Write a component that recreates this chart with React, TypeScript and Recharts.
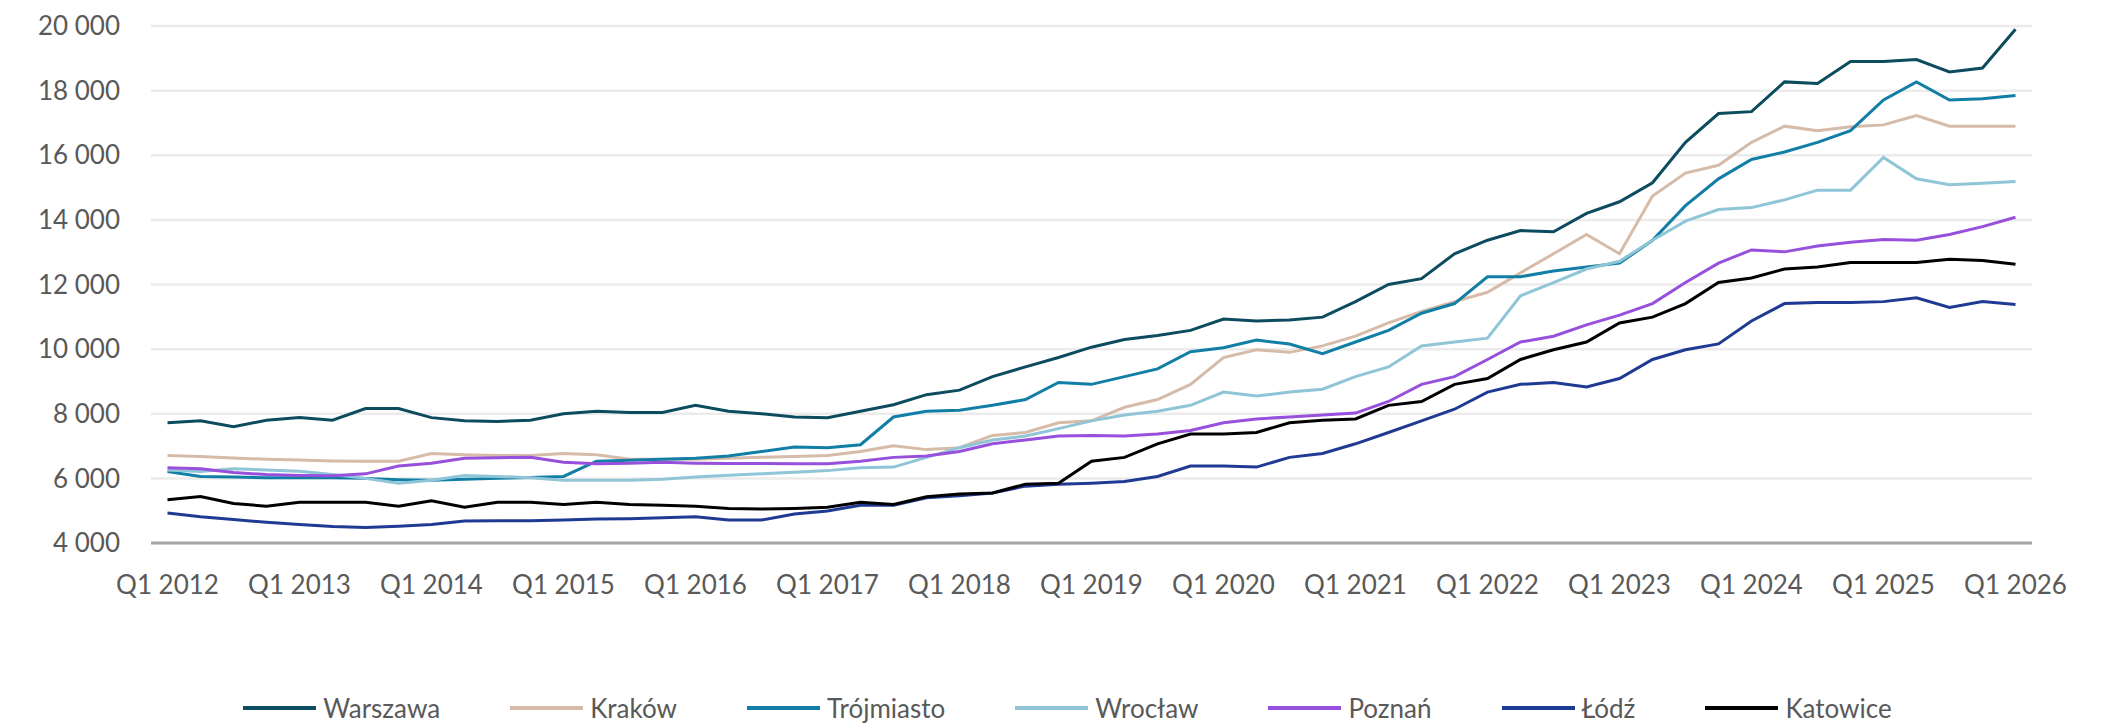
import React from 'react';
import { LineChart, Line, XAxis, YAxis, CartesianGrid, Legend } from 'recharts';

// quarterly asking prices, Q1 2012 .. Q1 2026
const quarters = [
  'Q1 2012', 'Q2 2012', 'Q3 2012', 'Q4 2012', 'Q1 2013', 'Q2 2013', 'Q3 2013', 'Q4 2013',
  'Q1 2014', 'Q2 2014', 'Q3 2014', 'Q4 2014', 'Q1 2015', 'Q2 2015', 'Q3 2015', 'Q4 2015',
  'Q1 2016', 'Q2 2016', 'Q3 2016', 'Q4 2016', 'Q1 2017', 'Q2 2017', 'Q3 2017', 'Q4 2017',
  'Q1 2018', 'Q2 2018', 'Q3 2018', 'Q4 2018', 'Q1 2019', 'Q2 2019', 'Q3 2019', 'Q4 2019',
  'Q1 2020', 'Q2 2020', 'Q3 2020', 'Q4 2020', 'Q1 2021', 'Q2 2021', 'Q3 2021', 'Q4 2021',
  'Q1 2022', 'Q2 2022', 'Q3 2022', 'Q4 2022', 'Q1 2023', 'Q2 2023', 'Q3 2023', 'Q4 2023',
  'Q1 2024', 'Q2 2024', 'Q3 2024', 'Q4 2024', 'Q1 2025', 'Q2 2025', 'Q3 2025', 'Q4 2025',
  'Q1 2026',
];

const warszawa = [
  7720, 7780, 7600, 7800, 7880, 7800, 8160, 8160, 7880, 7780, 7760, 7800, 8000, 8080, 8040, 8040, 8260,
  8080, 8000, 7900, 7880, 8080, 8280, 8590, 8730, 9150, 9450, 9740, 10060, 10300, 10420, 10580, 10930, 10870, 10900, 10990,
  11470, 12000, 12180, 12950, 13370, 13670, 13630, 14200, 14560, 15150, 16400, 17290, 17350, 18270, 18220, 18900, 18900, 18960, 18580, 18700, 19900,
];
const krakow = [
  6710, 6680, 6630, 6590, 6570, 6540, 6530, 6530, 6770, 6730, 6710, 6710, 6770, 6730, 6590, 6590, 6590,
  6620, 6650, 6680, 6710, 6830, 7010, 6890, 6950, 7330, 7420, 7720, 7780, 8200, 8440, 8910, 9740, 9980, 9900, 10100,
  10400, 10810, 11170, 11470, 11760, 12360, 12950, 13550, 12950, 14740, 15450, 15690, 16400, 16900, 16760, 16880, 16940, 17230, 16900, 16900, 16900,
];
const trojmiasto = [
  6210, 6060, 6040, 6020, 6020, 6020, 6000, 5960, 5940, 5970, 6000, 6030, 6060, 6530, 6560, 6590, 6620,
  6690, 6830, 6970, 6950, 7040, 7900, 8080, 8110, 8260, 8440, 8970, 8910, 9150, 9390, 9920, 10040, 10280, 10160, 9860,
  10220, 10580, 11110, 11410, 12240, 12240, 12420, 12540, 12660, 13370, 14440, 15270, 15870, 16100, 16400, 16760, 17710, 18270, 17710, 17750, 17850,
];
const wroclaw = [
  6260, 6210, 6300, 6260, 6220, 6120, 6000, 5850, 5940, 6090, 6060, 6020, 5940, 5940, 5940, 5970, 6040,
  6100, 6140, 6190, 6240, 6330, 6350, 6650, 6950, 7190, 7310, 7540, 7780, 7960, 8080, 8260, 8670, 8550, 8670, 8760,
  9150, 9450, 10100, 10220, 10340, 11650, 12060, 12480, 12720, 13370, 13960, 14320, 14380, 14620, 14920, 14920, 15930, 15270, 15090, 15130, 15190,
];
const poznan = [
  6330, 6300, 6180, 6120, 6090, 6080, 6140, 6380, 6470, 6620, 6640, 6650, 6500, 6450, 6470, 6500, 6470,
  6460, 6460, 6450, 6450, 6530, 6650, 6690, 6830, 7070, 7190, 7310, 7330, 7310, 7370, 7480, 7720, 7840, 7900, 7960,
  8020, 8380, 8910, 9150, 9680, 10220, 10400, 10750, 11050, 11410, 12060, 12660, 13070, 13010, 13190, 13310, 13390, 13370, 13550, 13790, 14080,
];
const lodz = [
  4930, 4810, 4730, 4640, 4570, 4510, 4480, 4520, 4570, 4680, 4690, 4690, 4710, 4740, 4750, 4780, 4810,
  4710, 4710, 4900, 4990, 5170, 5170, 5400, 5460, 5550, 5760, 5820, 5850, 5900, 6060, 6380, 6380, 6350, 6650, 6770,
  7070, 7420, 7780, 8140, 8670, 8910, 8970, 8830, 9090, 9680, 9980, 10160, 10870, 11410, 11440, 11440, 11470, 11590, 11290, 11470, 11380,
];
const katowice = [
  5340, 5440, 5220, 5140, 5260, 5260, 5260, 5140, 5310, 5110, 5260, 5260, 5190, 5260, 5190, 5170, 5140,
  5070, 5050, 5070, 5110, 5260, 5190, 5430, 5520, 5550, 5820, 5850, 6530, 6650, 7070, 7370, 7370, 7420, 7720, 7800,
  7840, 8260, 8380, 8910, 9090, 9680, 9980, 10220, 10810, 10990, 11410, 12060, 12200, 12480, 12540, 12680, 12680, 12680, 12780, 12740, 12630,
];

const yTicks = [4000, 6000, 8000, 10000, 12000, 14000, 16000, 18000, 20000];

const series = [
  { key: 'warszawa', name: 'Warszawa', color: '#0d4b5e', values: warszawa },
  { key: 'krakow', name: 'Kraków', color: '#d6bba8', values: krakow },
  { key: 'trojmiasto', name: 'Trójmiasto', color: '#117ea5', values: trojmiasto },
  { key: 'wroclaw', name: 'Wrocław', color: '#8fc5d7', values: wroclaw },
  { key: 'poznan', name: 'Poznań', color: '#9650dc', values: poznan },
  { key: 'lodz', name: 'Łódź', color: '#1f3a93', values: lodz },
  { key: 'katowice', name: 'Katowice', color: '#000000', values: katowice },
];

const data = quarters.map((q, i) => {
  const row: Record<string, string | number> = { q };
  series.forEach((s) => { row[s.key] = s.values[i]; });
  return row;
});

const FONT = "Lato, 'Open Sans', sans-serif";
const TEXT = '#595959';

const fmt = (v: number) => `${Math.floor(v / 1000)} ${String(v % 1000).padStart(3, '0')}`;

// legend kept in series order (recharts sorts the payload by name)
const LegendRow = () => (
  <div style={{ display: 'flex', justifyContent: 'center', alignItems: 'center', height: 30, fontFamily: FONT, fontSize: 26, color: TEXT }}>
    {series.map((s, i) => (
      <div key={s.key} style={{ display: 'flex', alignItems: 'center', marginLeft: i === 0 ? 0 : 70 }}>
        <span style={{ display: 'inline-block', width: 73, height: 4, background: s.color, marginRight: 7 }} />
        <span>{s.name}</span>
      </div>
    ))}
  </div>
);

export default function App() {
  return (
    <div style={{ position: 'absolute', left: 0, top: 0, width: 2105, height: 723, background: '#fff' }}>
      <LineChart width={2105} height={723} data={data} margin={{ top: 26, right: 73, left: 0, bottom: 0 }}>
        <CartesianGrid vertical={false} stroke="#ebebeb" strokeWidth={2.5} />
        <XAxis
          dataKey="q"
          interval={3}
          padding={{ left: 16.5, right: 16.5 }}
          height={150}
          tickSize={0}
          tickMargin={33}
          axisLine={{ stroke: '#a6a6a6', strokeWidth: 3 }}
          tickLine={false}
          tick={{ fill: TEXT, fontSize: 26, fontFamily: FONT }}
        />
        <YAxis
          width={151}
          domain={[4000, 20000]}
          ticks={yTicks}
          tickFormatter={fmt}
          axisLine={false}
          tickLine={false}
          tickSize={0}
          tickMargin={31}
          tick={{ fill: TEXT, fontSize: 26, fontFamily: FONT }}
        />
        <Legend
          verticalAlign="bottom"
          content={<LegendRow />}
          wrapperStyle={{ left: 30, width: 2075 }}
        />
        {series.map((s) => (
          <Line
            key={s.key}
            type="linear"
            dataKey={s.key}
            name={s.name}
            stroke={s.color}
            strokeWidth={3}
            dot={false}
            activeDot={false}
            isAnimationActive={false}
          />
        ))}
      </LineChart>
    </div>
  );
}
